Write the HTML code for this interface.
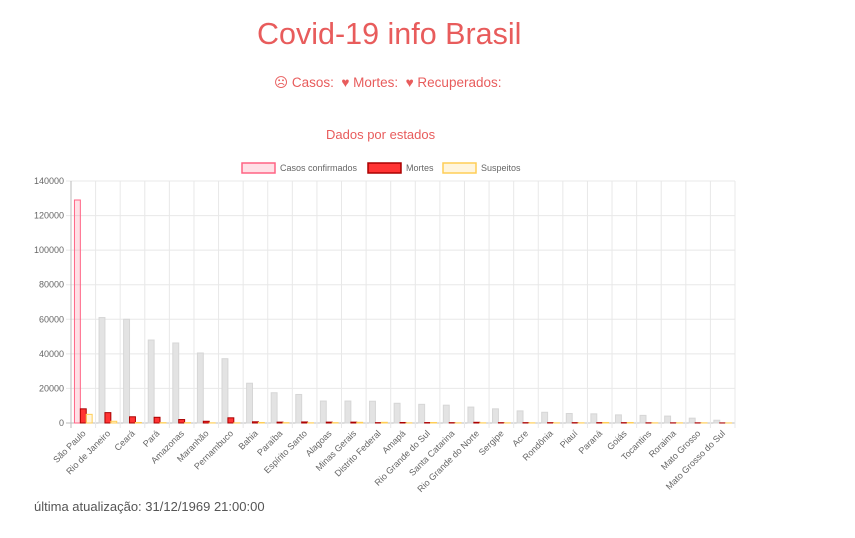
<!DOCTYPE html>
<html><head><meta charset="utf-8">
<style>
body{margin:0;width:855px;height:538px;background:#fff;font-family:"Liberation Sans",sans-serif;overflow:hidden;position:relative}
.t{position:absolute;color:#e85c5c;white-space:nowrap}
</style></head><body>
<div class="t" style="left:257px;top:17px;font-size:30.5px;">Covid-19 info Brasil</div>
<div class="t" style="left:274px;top:75px;font-size:13.5px;">
<span>☹ Casos:</span>&nbsp; <span>♥ Mortes:</span>&nbsp; <span>♥ Recuperados:</span></div>
<div class="t" style="left:326px;top:127px;font-size:13px;">Dados por estados</div>
<svg id="c" width="855" height="538" style="position:absolute;left:0;top:0" font-family="Liberation Sans, sans-serif"></svg>
<div class="t" style="left:34px;top:499px;font-size:13px;color:#555;">última atualização: 31/12/1969 21:00:00</div>
<script>
const categories=["São Paulo","Rio de Janeiro","Ceará","Pará","Amazonas","Maranhão","Pernambuco","Bahia","Paraíba","Espírito Santo","Alagoas","Minas Gerais","Distrito Federal","Amapá","Rio Grande do Sul","Santa Catarina","Rio Grande do Norte","Sergipe","Acre","Rondônia","Piauí","Paraná","Goiás","Tocantins","Roraima","Mato Grosso","Mato Grosso do Sul"];
const confirmados=[129000,61000,60000,48000,46300,40500,37200,23000,17500,16500,12700,12700,12600,11400,10800,10300,9200,8200,7000,6200,5500,5300,4700,4400,4000,2800,1600];
const mortes=[8200,6000,3600,3300,2000,1000,3000,700,500,600,500,500,200,300,250,200,400,200,200,200,200,200,200,100,100,100,50];
const suspeitos=[5000,1000,300,200,200,100,100,300,200,100,200,400,400,100,300,100,100,100,100,100,100,300,300,100,100,100,50];
const yTicks=[0,20000,40000,60000,80000,100000,120000,140000];
const legendLabels=["Casos confirmados","Mortes","Suspeitos"];
const svg=document.getElementById('c');const NS='http://www.w3.org/2000/svg';
const X0=71,X1=735,Y0=423,Y1=181,YMAX=140000;
const bw=(X1-X0)/categories.length;
const y=v=>Y0-(v/YMAX)*(Y0-Y1);
const xc=i=>X0+bw*(i+0.5);
function mk(t,a){const e=document.createElementNS(NS,t);for(const k in a)e.setAttribute(k,a[k]);svg.appendChild(e);return e;}
yTicks.forEach(v=>{const g=mk('line',{x1:X0-5,x2:X1,y1:y(v),y2:y(v),stroke:v===0?'#bbb':'#e8e8e8'});


const t=mk('text',{x:X0-7,y:y(v)+3,'text-anchor':'end','font-size':9,fill:'#666'});t.textContent=v;

});
for(let i=0;i<=categories.length;i++){const l=mk('line',{x1:X0+bw*i,x2:X0+bw*i,y1:Y1,y2:Y0+5,stroke:i===0?'#bbb':'#e8e8e8'});

}
const series=[[confirmados,'rgba(255,99,132,0.2)','rgb(255,99,132)'],[mortes,'#ff3333','#a00'],[suspeitos,'rgba(255,206,86,0.2)','rgb(255,206,86)']];
const w=bw*0.8*0.9/3;
categories.forEach((c,i)=>{
series.forEach((s,k)=>{let f=s[1],st=s[2];if(k===0&&i>0){f='#e3e3e3';st='#d6d6d6';}
const v=s[0][i];const x=xc(i)-1.5*w+k*w;
const r=mk('rect',{x:x,y:y(v),width:w,height:Y0-y(v),fill:f,stroke:st,'stroke-width':1});

});
const t=mk('text',{x:xc(i)+3,y:Y0+11,'text-anchor':'end','font-size':9,fill:'#666',transform:`rotate(-45 ${xc(i)+3} ${Y0+11})`});t.textContent=c;

});
const lx=[242,368,443];
legendLabels.forEach((l,k)=>{const r=mk('rect',{x:lx[k],y:163,width:33,height:10,fill:series[k][1],stroke:series[k][2],'stroke-width':1.5});


const t=mk('text',{x:lx[k]+38,y:171,'font-size':9,fill:'#666'});t.textContent=l;

});
</script>
</body></html>
